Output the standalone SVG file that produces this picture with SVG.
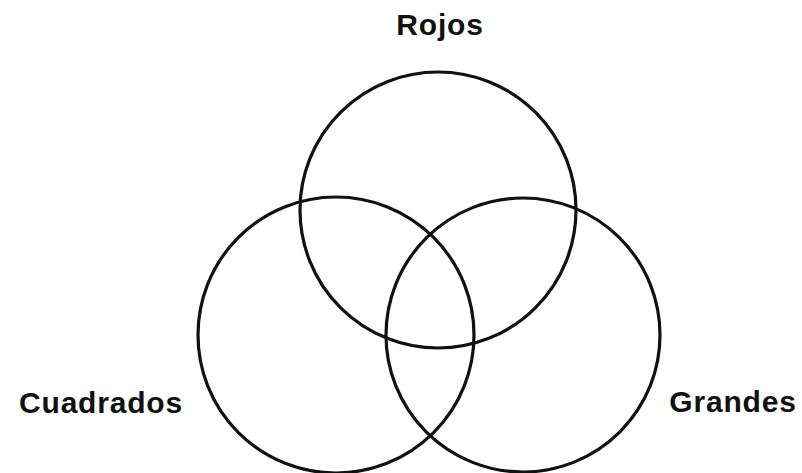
<svg xmlns="http://www.w3.org/2000/svg" width="802" height="473" viewBox="0 0 802 473">
<style>
.c{fill:none;stroke:#111;stroke-width:3.2}
.t{font-family:"Liberation Sans",Arial,sans-serif;font-weight:bold;font-size:30px;letter-spacing:0.8px;fill:#111}
</style>
<rect width="802" height="473" fill="#fff"/>
<g id="rojos"><circle class="c" cx="438" cy="210" r="138"/><text class="t" x="440" y="35" text-anchor="middle">Rojos</text></g>
<g id="cuadrados"><circle class="c" cx="336" cy="335" r="138"/><text class="t" x="101" y="413" text-anchor="middle">Cuadrados</text></g>
<g id="grandes"><circle class="c" cx="523" cy="335" r="137"/><text class="t" x="733" y="412" text-anchor="middle">Grandes</text></g>
<g id="connectors"></g>
</svg>
